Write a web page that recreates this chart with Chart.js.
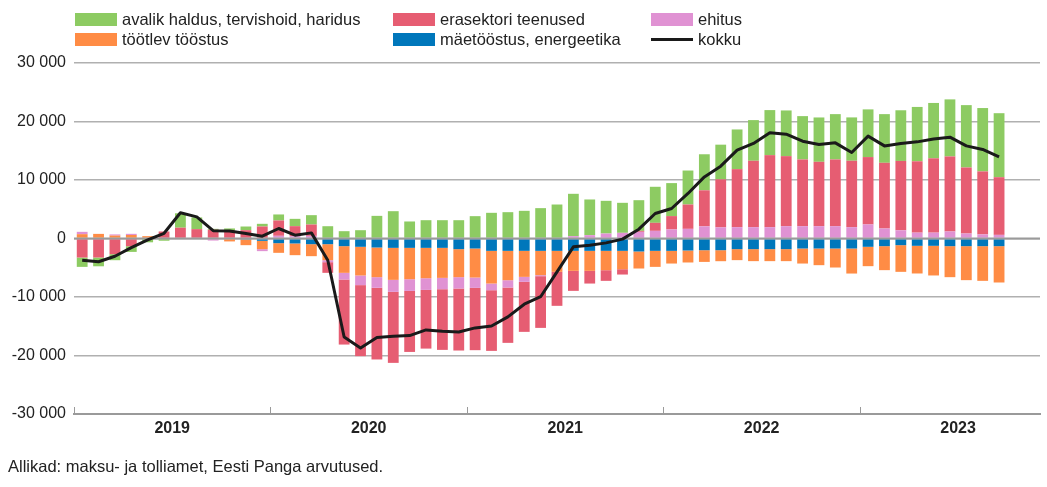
<!DOCTYPE html>
<html>
<head>
<meta charset="utf-8">
<script src="https://cdn.jsdelivr.net/npm/chart.js@4.4.0/dist/chart.umd.min.js"></script>
<style>
  body { margin: 0; background: #fff; font-family: "Liberation Sans", Arial, sans-serif; color: #222; }
  #wrap { position: relative; width: 1047px; height: 487px; overflow: hidden; }
  #chart { position: absolute; left: 0; top: 0; }
  .leg { position: absolute; display: flex; align-items: center; height: 13px; font-size: 16.5px; white-space: nowrap; }
  .leg .box { width: 42px; height: 13px; margin-right: 5px; }
  .leg .ln { width: 42px; height: 3px; background: #1a1a1a; margin-right: 5px; }
  #source { position: absolute; left: 8px; top: 457px; font-size: 16.5px; }
</style>
</head>
<body>
<div id="wrap">
  <canvas id="chart" width="1047" height="487"></canvas>
  <div class="leg" style="left:75px; top:13px"><div class="box" style="background:#8dcb62"></div>avalik haldus, tervishoid, haridus</div>
  <div class="leg" style="left:393px; top:13px"><div class="box" style="background:#e65d72"></div>erasektori teenused</div>
  <div class="leg" style="left:651px; top:13px"><div class="box" style="background:#e092d3"></div>ehitus</div>
  <div class="leg" style="left:75px; top:33px"><div class="box" style="background:#ff8c45"></div>töötlev tööstus</div>
  <div class="leg" style="left:393px; top:33px"><div class="box" style="background:#0077bb"></div>mäetööstus, energeetika</div>
  <div class="leg" style="left:651px; top:33px"><div class="ln"></div>kokku</div>
  <div id="source">Allikad: maksu- ja tolliamet, Eesti Panga arvutused.</div>
</div>
<script>
const years = ['2019', '2020', '2021', '2022', '2023']
// monthly labels Jan 2019 .. Nov 2023 (data ends Sep 2023)
const labels = []
years.forEach(y => {
    for (let m = 1; m <= 12; m++) labels.push(y + '-' + String(m).padStart(2, '0'))
})
labels.splice(59)

const avalik = [
    -1600, -1500, -1030, -970, -650, -380, 2460, 2000, 150, 400, 630, 460,
    1030, 1250, 1600, 2100, 1250, 1420, 3870, 4670, 2910, 3130, 3130, 3130,
    3820, 4390, 4500, 4730, 5190, 5810, 7240, 6100, 5590, 5130, 5240, 6160,
    5640, 5810, 6160, 5930, 6780, 6950, 7700, 7810, 7410, 7580, 7750, 7410,
    8150, 8320, 8660, 9290, 9460, 9750, 10660, 10830, 10940
]
const erasektor = [
    -3250, -3250, -2680, -1320, 0, 1200, 1850, 1600, 1500, 1320, 1420, 2050,
    2620, 1710, 1940, -1820, -11120, -12140, -12250, -12140, -10430, -10030, -10370, -10600,
    -10650, -10370, -9460, -8550, -8840, -5810, -3420, -2170, -1820, -910, 170, 1370,
    2280, 4160, 6160, 8210, 9920, 11350, 12310, 11970, 11400, 11000, 11400, 11350,
    11520, 11230, 11860, 12200, 12710, 12830, 11290, 10770, 9860
]
const ehitus = [
    400, 0, 200, 200, 0, 0, 0, 0, -350, 0, 0, -340,
    460, 400, 450, -340, -1140, -1650, -1820, -2050, -2000, -2000, -1940, -1940,
    -1770, -1140, -1250, -850, -170, 0, 400, 570, 850, 970, 1140, 1310,
    1550, 1650, 2080, 1900, 1940, 1940, 1940, 2110, 2110, 2110, 2110, 1940,
    2400, 1710, 1400, 1000, 1000, 1200, 850, 700, 620
]
const tootlev = [
    740, 790, 500, 600, 400, 0, 0, 0, 0, -500, -970, -1420,
    -1650, -2000, -2050, -2740, -4560, -4900, -5070, -5470, -5360, -5190, -5130, -4790,
    -4960, -5590, -5020, -4450, -4160, -3590, -3420, -3420, -3310, -3140, -2910, -2740,
    -2170, -2050, -2000, -1880, -1880, -2050, -2050, -2050, -2570, -2850, -3250, -4280,
    -3310, -4100, -4560, -4730, -5070, -5300, -5810, -5930, -6210
]
const maetoostus = [
    0, 0, 0, 0, 0, 0, 0, 0, 0, 0, -170, -400,
    -800, -850, -970, -970, -1310, -1420, -1540, -1600, -1600, -1600, -1600, -1820,
    -1710, -2110, -2110, -2110, -2110, -2110, -2110, -2110, -2110, -2110, -2220, -2110,
    -2110, -2050, -2000, -2000, -1820, -1820, -1820, -1820, -1710, -1710, -1710, -1710,
    -1420, -1310, -1140, -1250, -1250, -1310, -1310, -1310, -1310
]
const kokku = [
    -3700, -3970, -3030, -1570, -250, 890, 4400, 3700, 1330, 1280, 850, 390,
    1710, 560, 960, -3710, -16830, -18700, -16930, -16700, -16590, -15630, -15850, -15970,
    -15280, -14950, -13400, -11230, -9950, -5700, -1430, -1150, -750, -110, 1590, 4270,
    5130, 7700, 10530, 12360, 15100, 16250, 18070, 17830, 16640, 16070, 16350, 14710,
    17500, 15830, 16240, 16520, 17000, 17320, 15830, 15220, 13950
]

function fmt(v) {
    let s = String(Math.abs(v)).replace(/\B(?=(\d{3})+(?!\d))/g, ' ')
    return (v < 0 ? '-' : '') + s
}

// year tick marks (pointing up from the axis) and zero line over the bars
const extras = {
    id: 'extras',
    afterDatasetDraw(chart, args) {
        if (args.index !== 1) return
        const y = chart.scales.y, a = chart.chartArea, c = chart.ctx
        c.save()
        c.strokeStyle = '#9a9a9a'
        c.lineWidth = 2
        c.beginPath()
        c.moveTo(a.left, y.getPixelForValue(0))
        c.lineTo(a.right, y.getPixelForValue(0))
        c.stroke()
        c.restore()
    },
    afterDraw(chart) {
        const x = chart.scales.x, a = chart.chartArea, c = chart.ctx
        c.save()
        c.strokeStyle = '#9a9a9a'
        c.lineWidth = 1
        for (let i = 0; i < labels.length; i += 12) {
            let px = i === 0 ? a.left : (x.getPixelForValue(i - 1) + x.getPixelForValue(i)) / 2
            px = Math.round(px) + 0.5
            c.beginPath()
            c.moveTo(px, a.bottom)
            c.lineTo(px, a.bottom - 7)
            c.stroke()
        }
        c.restore()
    }
}

const barOpts = { type: 'bar', barPercentage: 0.66, categoryPercentage: 1.0, borderWidth: 0, stack: 'bars' }

new Chart(document.getElementById('chart'), {
    data: {
        labels: labels,
        datasets: [
            { type: 'line', label: 'kokku', data: kokku, borderColor: '#1a1a1a', borderWidth: 3,
              pointRadius: 0, tension: 0, stack: 'total', borderJoinStyle: 'round' },
            Object.assign({ label: 'mäetööstus, energeetika', data: maetoostus, backgroundColor: '#0077bb' }, barOpts),
            Object.assign({ label: 'töötlev tööstus', data: tootlev, backgroundColor: '#ff8c45' }, barOpts),
            Object.assign({ label: 'ehitus', data: ehitus, backgroundColor: '#e092d3' }, barOpts),
            Object.assign({ label: 'erasektori teenused', data: erasektor, backgroundColor: '#e65d72' }, barOpts),
            Object.assign({ label: 'avalik haldus, tervishoid, haridus', data: avalik, backgroundColor: '#8dcb62' }, barOpts)
        ]
    },
    options: {
        responsive: false,
        animation: false,
        layout: { padding: { top: 63, right: 7, left: 0, bottom: 0 } },
        plugins: { legend: { display: false }, tooltip: { enabled: false } },
        scales: {
            x: {
                stacked: true,
                grid: { display: false, drawTicks: false },
                border: { display: true, color: '#9a9a9a', width: 2 },
                ticks: {
                    autoSkip: false, maxRotation: 0, minRotation: 0, padding: 5,
                    labelOffset: -8.2,
                    color: '#222',
                    font: { family: 'Liberation Sans, Arial', size: 16, weight: 'bold' },
                    callback: (v, i) => i % 12 === 6 ? labels[i].slice(0, 4) : ''
                },
                afterFit: s => { s.height = 73 }
            },
            y: {
                stacked: true,
                min: -30000, max: 30000,
                grid: { color: '#b0b0b0', lineWidth: 1.5, drawTicks: false },
                border: { display: false },
                ticks: {
                    stepSize: 10000, padding: 8, color: '#222',
                    font: { family: 'Liberation Sans, Arial', size: 16 },
                    callback: v => fmt(v)
                },
                afterFit: s => { s.width = 74 }
            }
        }
    },
    plugins: [extras]
})
</script>
</body>
</html>
